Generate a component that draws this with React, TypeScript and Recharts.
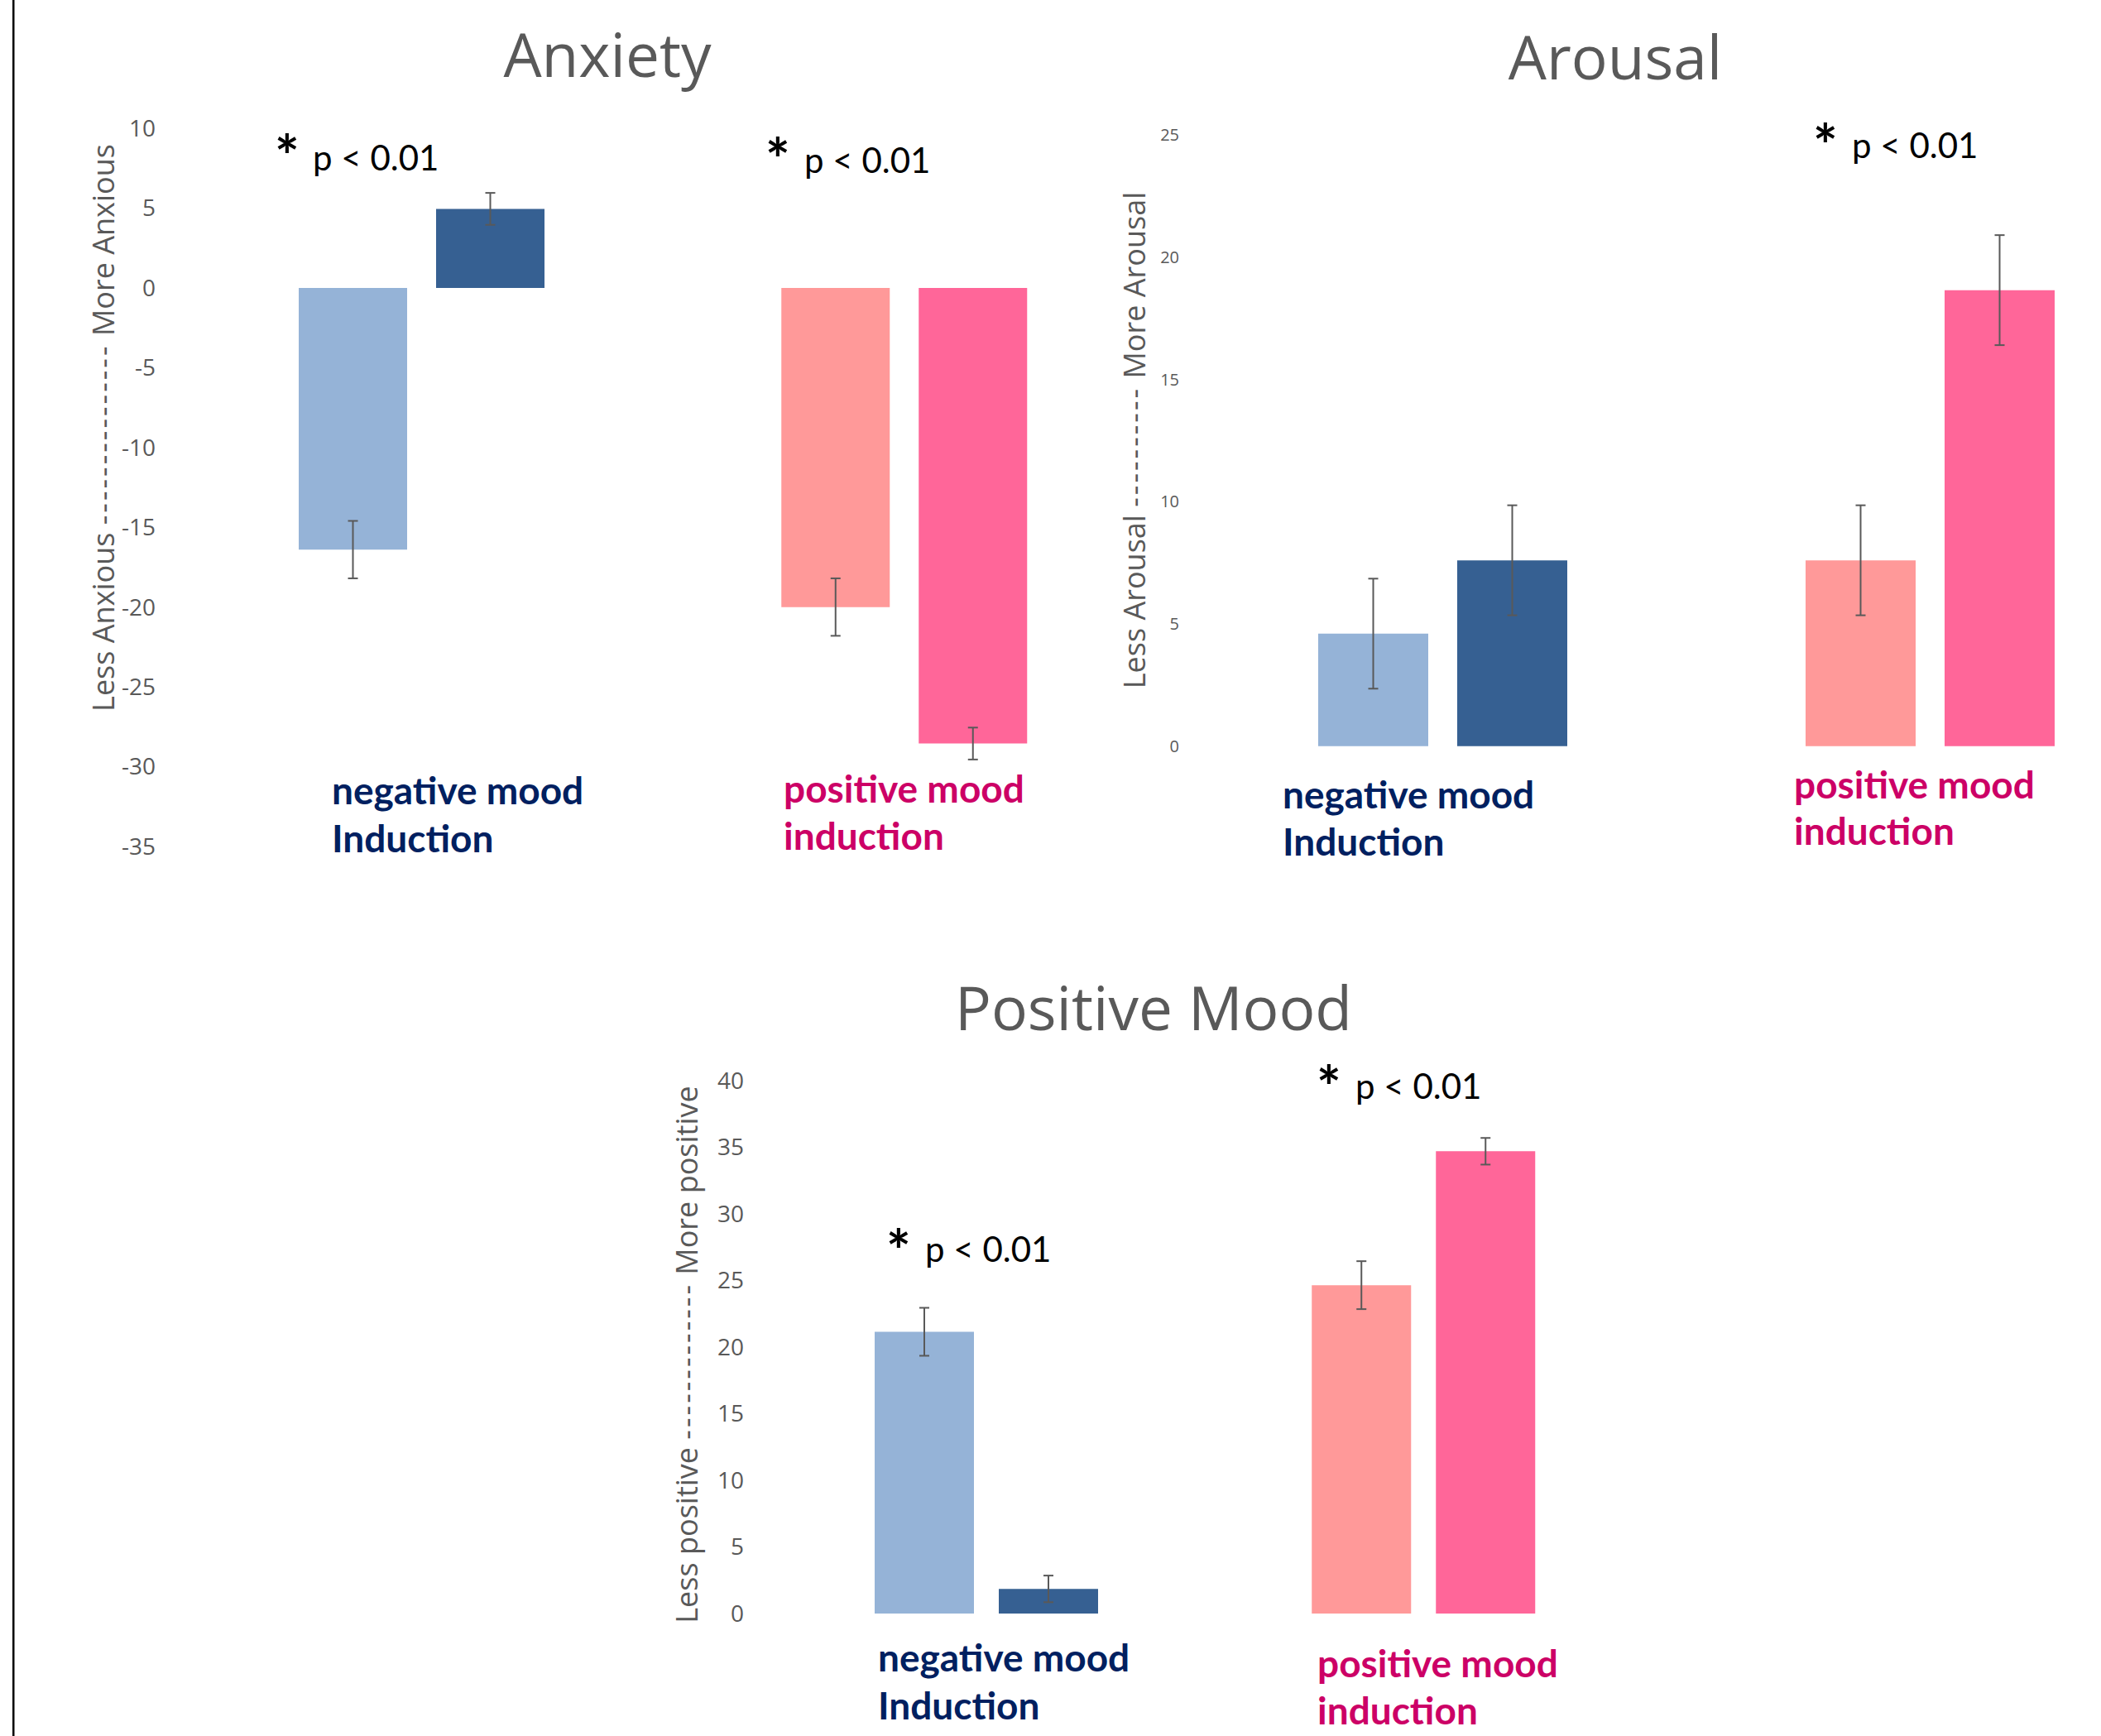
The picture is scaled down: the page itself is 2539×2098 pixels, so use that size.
import { BarChart, Bar, XAxis, YAxis, ErrorBar, Cell } from "recharts";

// groups shared by all three panels
const groups = ["negative mood Induction", "positive mood induction"];

// Anxiety
const anxietyFirst = [-16.4, -20.0];
const anxietyFirstErr = [1.8, 1.8];
const anxietySecond = [4.95, -28.55];
const anxietySecondErr = [1.0, 1.0];
const anxietyTicks = [10, 5, 0, -5, -10, -15, -20, -25, -30, -35];

// Arousal
const arousalFirst = [4.6, 7.6];
const arousalFirstErr = [2.25, 2.25];
const arousalSecond = [7.6, 18.65];
const arousalSecondErr = [2.25, 2.25];
const arousalTicks = [0, 5, 10, 15, 20, 25];

// Positive Mood
const positiveFirst = [21.15, 24.65];
const positiveFirstErr = [1.8, 1.8];
const positiveSecond = [1.85, 34.7];
const positiveSecondErr = [1.0, 1.0];
const positiveTicks = [0, 5, 10, 15, 20, 25, 30, 35, 40];

const firstColors = ["#95B3D7", "#FF9999"];
const secondColors = ["#366092", "#FF6699"];
const gray = "#595959";
const navy = "#002060";
const magenta = "#CC0066";

const buildRows = (first: number[], firstErr: number[], second: number[], secondErr: number[]) =>
  groups.map((group, i) => ({
    group,
    first: first[i],
    firstErr: firstErr[i],
    second: second[i],
    secondErr: secondErr[i],
  }));

type PanelProps = {
  rows: any[];
  ticks: number[];
  plotLeft: number;
  plotRight: number;
  plotTop: number;
  plotBottom: number;
  axisWidth: number;
  tickGap: number;
  tickFont: number;
  barSize: number;
  barGap: number;
};

function Panel(p: PanelProps) {
  const pad = 20;
  const width = p.axisWidth + (p.plotRight - p.plotLeft);
  const height = p.plotBottom - p.plotTop + pad * 2;
  const domain = [Math.min(...p.ticks), Math.max(...p.ticks)];
  return (
    <div style={{ position: "absolute", left: p.plotLeft - p.axisWidth, top: p.plotTop - pad }}>
      <BarChart
        width={width}
        height={height}
        data={p.rows}
        margin={{ top: pad, bottom: pad, left: 0, right: 0 }}
        barSize={p.barSize}
        barGap={p.barGap}
      >
        <XAxis dataKey="group" hide />
        <YAxis
          width={p.axisWidth}
          domain={domain}
          ticks={p.ticks}
          interval={0}
          tickLine={false}
          axisLine={false}
          tickSize={0}
          tickMargin={p.tickGap}
          tick={{ fill: gray, fontSize: p.tickFont, fontFamily: "Open Sans" }}
        />
        <Bar dataKey="first" isAnimationActive={false}>
          {p.rows.map((r, i) => (
            <Cell key={r.group} fill={firstColors[i]} />
          ))}
          <ErrorBar dataKey="firstErr" width={6} strokeWidth={2} stroke={gray} direction="y" />
        </Bar>
        <Bar dataKey="second" isAnimationActive={false}>
          {p.rows.map((r, i) => (
            <Cell key={r.group} fill={secondColors[i]} />
          ))}
          <ErrorBar dataKey="secondErr" width={6} strokeWidth={2} stroke={gray} direction="y" />
        </Bar>
      </BarChart>
    </div>
  );
}

function Star({ sx, sy, px, py }: { sx: number; sy: number; px: number; py: number }) {
  return (
    <g>
      <text x={sx} y={sy + 12} textAnchor="middle" fontFamily="Lato" fontWeight={700} fontSize={70} fill="#000">
        *
      </text>
      <text x={px} y={py} fontFamily="Lato" fontSize={42} fill="#000">
        p &lt; 0.01
      </text>
    </g>
  );
}

function GroupLabel({ x, y1, y2, color, lines }: { x: number; y1: number; y2: number; color: string; lines: string[] }) {
  return (
    <g fontFamily="Lato" fontWeight={700} fontSize={46} fill={color}>
      <text x={x} y={y1}>{lines[0]}</text>
      <text x={x} y={y2}>{lines[1]}</text>
    </g>
  );
}

function AxisTitle({ x, y, low, high, dashes }: { x: number; y: number; low: string; high: string; dashes: number }) {
  return (
    <text
      x={x}
      y={y}
      transform={`rotate(-90 ${x} ${y})`}
      textAnchor="middle"
      fontFamily="Open Sans"
      fontSize={36}
      fill={gray}
    >
      {low + " "}
      <tspan letterSpacing={3}>{"-".repeat(dashes)}</tspan>
      {" " + high}
    </text>
  );
}

export default function App() {
  const negLines = ["negative mood", "Induction"];
  const posLines = ["positive mood", "induction"];
  return (
    <div
      style={{
        position: "absolute",
        left: 0,
        top: 0,
        width: 2539,
        height: 2098,
        overflow: "hidden",
        background: "#fff",
      }}
    >
      <Panel
        rows={buildRows(anxietyFirst, anxietyFirstErr, anxietySecond, anxietySecondErr)}
        ticks={anxietyTicks}
        plotLeft={218}
        plotRight={1384.5}
        plotTop={154.5}
        plotBottom={1022.5}
        axisWidth={218}
        tickGap={30}
        tickFont={28}
        barSize={131}
        barGap={35}
      />
      <Panel
        rows={buildRows(arousalFirst, arousalFirstErr, arousalSecond, arousalSecondErr)}
        ticks={arousalTicks}
        plotLeft={1449}
        plotRight={2627}
        plotTop={162.7}
        plotBottom={901.4}
        axisWidth={100}
        tickGap={24}
        tickFont={20}
        barSize={133}
        barGap={35}
      />
      <Panel
        rows={buildRows(positiveFirst, positiveFirstErr, positiveSecond, positiveSecondErr)}
        ticks={positiveTicks}
        plotLeft={928}
        plotRight={1984.5}
        plotTop={1306}
        plotBottom={1950}
        axisWidth={120}
        tickGap={29}
        tickFont={28}
        barSize={120}
        barGap={30}
      />
      <svg
        width={2539}
        height={2098}
        style={{ position: "absolute", left: 0, top: 0, pointerEvents: "none" }}
      >
        <rect x={15} y={0} width={2.5} height={2098} fill="#000" />

        <g fontFamily="Open Sans" fontSize={73} fill={gray} textAnchor="middle">
          <text x={734} y={93}>Anxiety</text>
          <text x={1952} y={96}>Arousal</text>
          <text x={1394} y={1245}>Positive Mood</text>
        </g>

        <AxisTitle x={138} y={517} low="Less Anxious" high="More Anxious" dashes={15} />
        <AxisTitle x={1384} y={532} low="Less Arousal" high="More Arousal" dashes={10} />
        <AxisTitle x={843} y={1637} low="Less positive" high="More positive" dashes={13} />

        <Star sx={347} sy={203} px={378} py={206} />
        <Star sx={940} sy={207} px={972} py={209} />
        <Star sx={2206} sy={190} px={2238} py={191} />
        <Star sx={1086} sy={1526} px={1118} py={1525} />
        <Star sx={1606} sy={1328} px={1638} py={1328} />

        <GroupLabel x={401} y1={972} y2={1030} color={navy} lines={negLines} />
        <GroupLabel x={947} y1={970} y2={1027} color={magenta} lines={posLines} />
        <GroupLabel x={1550} y1={977} y2={1034} color={navy} lines={negLines} />
        <GroupLabel x={2168} y1={965} y2={1021} color={magenta} lines={posLines} />
        <GroupLabel x={1061} y1={2020} y2={2078} color={navy} lines={negLines} />
        <GroupLabel x={1592} y1={2027} y2={2084} color={magenta} lines={posLines} />
      </svg>
    </div>
  );
}
